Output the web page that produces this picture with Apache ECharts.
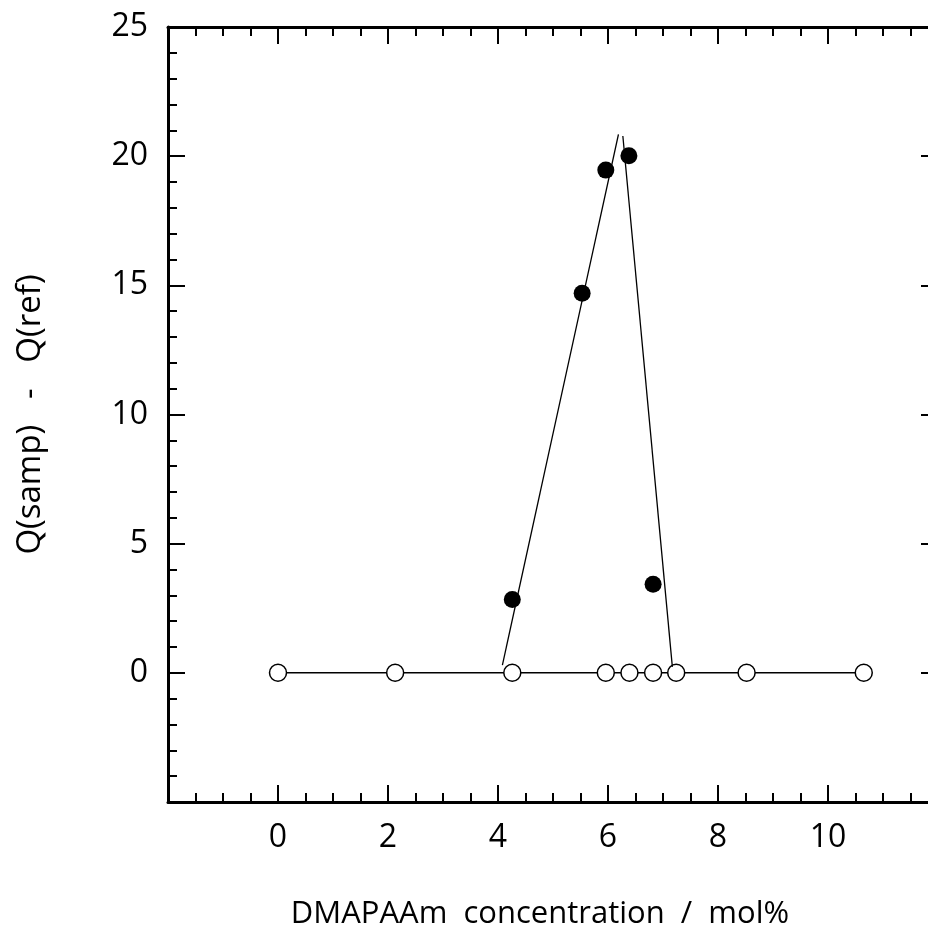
<!DOCTYPE html>
<html>
<head>
<meta charset="utf-8">
<script src="https://cdn.jsdelivr.net/npm/echarts@6/dist/echarts.min.js"></script>
<style>
  html, body { margin: 0; padding: 0; background: #fff; }
  #chart { width: 928px; height: 932px; }
</style>
</head>
<body>
<div id="chart"></div>
<script>
// Reference samples (open circles) sit on the zero line
const refConc = [0, 2.13, 4.26, 5.96, 6.39, 6.82, 7.24, 8.52, 10.65];
const refQ = [0, 0, 0, 0, 0, 0, 0, 0, 0];

// Measured samples (filled circles)
const sampConc = [4.26, 5.53, 5.96, 6.38, 6.82];
const sampQ = [2.84, 14.69, 19.46, 20.02, 3.43];

// Straight fit lines: rising and falling flanks
const riseConc = [4.08, 6.19];
const riseQ = [0.30, 20.84];
const fallConc = [6.27, 7.17];
const fallQ = [20.78, 0.23];

// Labelled tick values
const xTickLabels = [0, 2, 4, 6, 8, 10];
const yTickLabels = [0, 5, 10, 15, 20, 25];

const FONT = 'Open Sans';
const zip = (xs, ys) => xs.map((x, i) => [x, ys[i]]);

const lineStyleAxis = { color: '#000', width: 3 };
const tickMajor = { show: true, inside: true, length: 17, lineStyle: { color: '#000', width: 2 } };

function xAxisDef(pos, labels) {
  return {
    type: 'value', position: pos, min: -2, max: 12, interval: 2,
    axisLine: { show: true, onZero: false, lineStyle: lineStyleAxis },
    axisTick: tickMajor,
    minorTick: { show: true, splitNumber: 4, length: 9, lineStyle: { color: '#000', width: 2 } },
    splitLine: { show: false }, minorSplitLine: { show: false },
    axisLabel: {
      show: labels, margin: 20, color: '#000', fontFamily: FONT, fontSize: 32,
      formatter: v => xTickLabels.includes(v) ? String(v) : ''
    }
  };
}

function yAxisDef(pos, labels) {
  return {
    type: 'value', position: pos, min: -5, max: 25, interval: 5,
    axisLine: { show: true, onZero: false, lineStyle: lineStyleAxis },
    axisTick: tickMajor,
    minorTick: { show: true, splitNumber: 5, length: 9, lineStyle: { color: '#000', width: 2 } },
    splitLine: { show: false }, minorSplitLine: { show: false },
    axisLabel: {
      show: labels, margin: 20, color: '#000', fontFamily: FONT, fontSize: 32,
      formatter: v => yTickLabels.includes(v) ? String(v) : ''
    }
  };
}

const chart = echarts.init(document.getElementById('chart'), null, { renderer: 'canvas' });

const yLeft = yAxisDef('left', true);
yLeft.name = 'Q(samp)   -   Q(ref)';
yLeft.nameLocation = 'middle';
yLeft.nameRotate = 90;
yLeft.nameGap = 121;
yLeft.nameTextStyle = { color: '#000', fontFamily: FONT, fontSize: 33 };

chart.setOption({
  animation: false,
  backgroundColor: '#fff',
  grid: { left: 168, top: 27, width: 770, height: 775, outerBoundsMode: 'none' },
  xAxis: [xAxisDef('bottom', true), xAxisDef('top', false)],
  yAxis: [yLeft, yAxisDef('right', false)],
  graphic: [{
    type: 'text',
    x: 540, y: 914,
    style: {
      text: 'DMAPAAm  concentration  /  mol%',
      fill: '#000', font: '31px "Open Sans"',
      align: 'center', verticalAlign: 'middle'
    }
  }],
  series: [
    {
      name: 'reference', type: 'line', data: zip(refConc, refQ),
      symbol: 'circle', symbolSize: 17, showAllSymbol: true,
      lineStyle: { color: '#000', width: 1.5 },
      itemStyle: { color: '#fff', borderColor: '#000', borderWidth: 1.5 },
      emphasis: { disabled: true }, z: 2
    },
    {
      name: 'sample', type: 'scatter', data: zip(sampConc, sampQ),
      symbol: 'circle', symbolSize: 17,
      itemStyle: { color: '#000', opacity: 1 },
      emphasis: { disabled: true }, z: 4
    },
    {
      name: 'rise', type: 'line', data: zip(riseConc, riseQ), symbol: 'none',
      lineStyle: { color: '#000', width: 1.3 }, z: 3
    },
    {
      name: 'fall', type: 'line', data: zip(fallConc, fallQ), symbol: 'none',
      lineStyle: { color: '#000', width: 1.3 }, z: 3
    }
  ]
});
</script>
</body>
</html>
